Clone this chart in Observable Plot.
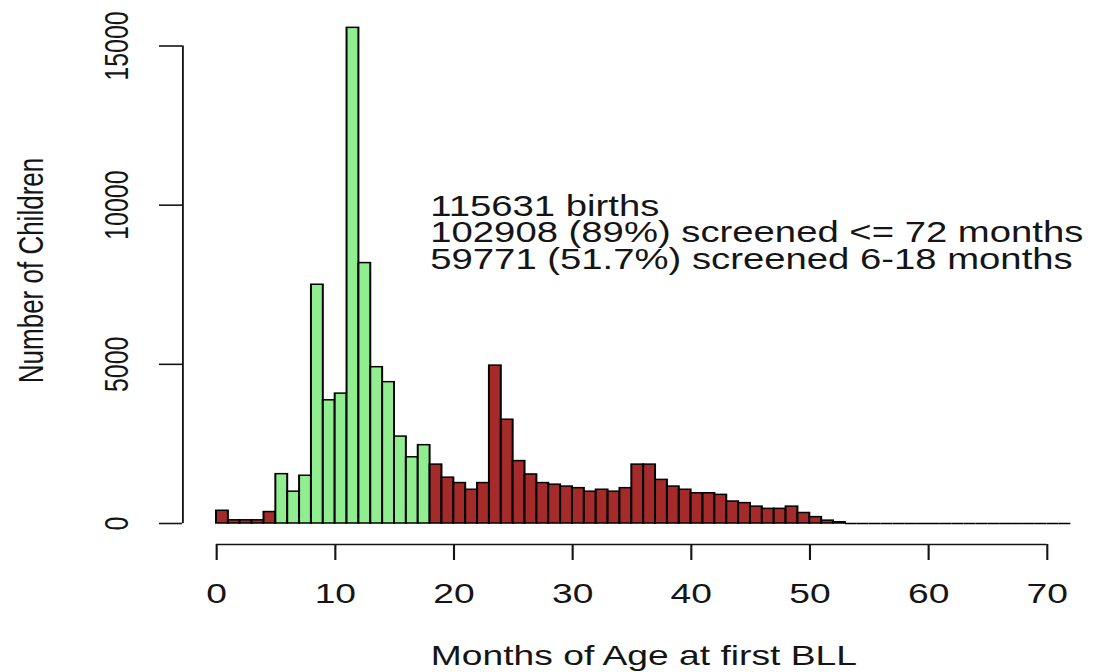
<!DOCTYPE html>
<html>
<head>
<meta charset="utf-8">
<script src="https://cdn.jsdelivr.net/npm/d3@7"></script>
<script src="https://cdn.jsdelivr.net/npm/@observablehq/plot@0.6"></script>
<style>
  html, body { margin: 0; padding: 0; background: #fff; }
  #chart { width: 1102px; height: 672px; overflow: hidden; }
</style>
</head>
<body>
<div id="chart"></div>
<script>
// Histogram of months of age at first blood lead level (1-month bins, 0..72)
const binStarts = d3.range(0, 72);
const counts = [
  400, 100, 100, 100, 360, 1550, 1000, 1500, 7500, 3870,
  4080, 15570, 8180, 4910, 4440, 2730, 2080, 2460, 1850, 1440,
  1270, 1060, 1270, 4960, 3260, 1960, 1540, 1270, 1220, 1160,
  1110, 1000, 1060, 1000, 1110, 1850, 1850, 1370, 1160, 1060,
  950, 950, 900, 690, 640, 530, 460, 460, 530, 330,
  200, 90, 40, 0, 0, 0, 0, 0, 0, 0,
  0, 0, 0, 0, 0, 0, 0, 0, 0, 0,
  0, 0
];
const targetWindow = [5, 18];               // bins highlighted in green
const xTicks = [0, 10, 20, 30, 40, 50, 60, 70];
const yTicks = [0, 5000, 10000, 15000];
const annotationLines = [
  "115631 births",
  "102908 (89%) screened <= 72 months",
  "59771 (51.7%) screened 6-18 months"
];
const annotationAt = {x: 18, y: 9100};
const xTitle = "Months of Age at first BLL";
const yTitle = "Number of Children";

const bins = binStarts.map((s, i) => ({
  start: s,
  end: s + 1,
  count: counts[i],
  group: (s >= targetWindow[0] && s < targetWindow[1]) ? "target" : "other"
}));
const filled = bins.filter(d => d.count > 0);
const empty = bins.filter(d => d.count === 0);

// The reference image is horizontally stretched; draw at a narrower width
// and stretch the SVG to the full page width.
const W = 1102, H = 672;
const stretch = 1.3293;
const pw = Math.round(W / stretch);
const FONT = "'Liberation Sans', Arial, Helvetica, sans-serif";
const ink = "#151515";

const chart = Plot.plot({
  width: pw,
  height: H,
  marginLeft: 162.5,
  marginRight: pw - 805.2,
  marginTop: 17,
  marginBottom: 149,
  style: {fontFamily: FONT, color: ink, background: "white", overflow: "visible"},
  x: {domain: [0, 72]},
  y: {domain: [0, 15895]},
  color: {domain: ["target", "other"], range: ["#90EE90", "#A52A2A"]},
  marks: [
    Plot.rectY(filled, {
      x1: "start", x2: "end", y: "count",
      fill: "group", stroke: "black", strokeWidth: 1.5
    }),
    Plot.ruleY(empty, {y: "count", x1: "start", x2: "end", stroke: "black", strokeWidth: 1.5}),
    // x axis (R style, offset below the plot)
    Plot.ruleY([0], {x1: xTicks[0], x2: xTicks[xTicks.length - 1], dy: 21, stroke: ink, strokeWidth: 1.6}),
    Plot.axisX({
      ticks: xTicks, tickSize: 16, tickPadding: 23, dy: 21,
      fontSize: 28, label: null, stroke: ink, strokeWidth: 1.6, fill: ink,
      tickFormat: d => String(d)
    }),
    // y axis (R style, offset left of the plot)
    Plot.ruleX([0], {y1: yTicks[0], y2: yTicks[yTicks.length - 1], dx: -25.4, stroke: ink, strokeWidth: 1.4}),
    Plot.axisY({
      ticks: yTicks, tickSize: 17.5, dx: -25.4, label: null,
      stroke: ink, strokeWidth: 1.6, tickFormat: () => ""
    }),
    Plot.text(yTicks, {
      y: d => d, text: d => String(d), frameAnchor: "left", dx: -74.5,
      rotate: -90, textAnchor: "middle", lineAnchor: "middle",
      fontSize: 25, fill: ink
    }),
    // axis titles
    Plot.text([yTitle], {
      text: d => d, frameAnchor: "left", dx: -139.2, rotate: -90,
      textAnchor: "middle", lineAnchor: "middle",
      fontSize: 26, fill: ink
    }),
    Plot.text([xTitle], {
      text: d => d, frameAnchor: "bottom", lineAnchor: "top", dy: 122,
      textAnchor: "middle", fontSize: 28, fill: ink
    }),
    // annotation
    Plot.text([annotationLines.join("\n")], {
      x: () => annotationAt.x, y: () => annotationAt.y, text: d => d,
      textAnchor: "start", lineAnchor: "middle", lineHeight: 0.93,
      fontSize: 28.8, fill: ink
    })
  ]
});

chart.setAttribute("preserveAspectRatio", "none");
chart.setAttribute("viewBox", `0 0 ${pw} ${H}`);
chart.setAttribute("width", W);
chart.setAttribute("height", H);
chart.style.width = W + "px";
chart.style.height = H + "px";
chart.style.maxWidth = "none";
document.getElementById("chart").appendChild(chart);
</script>
</body>
</html>
